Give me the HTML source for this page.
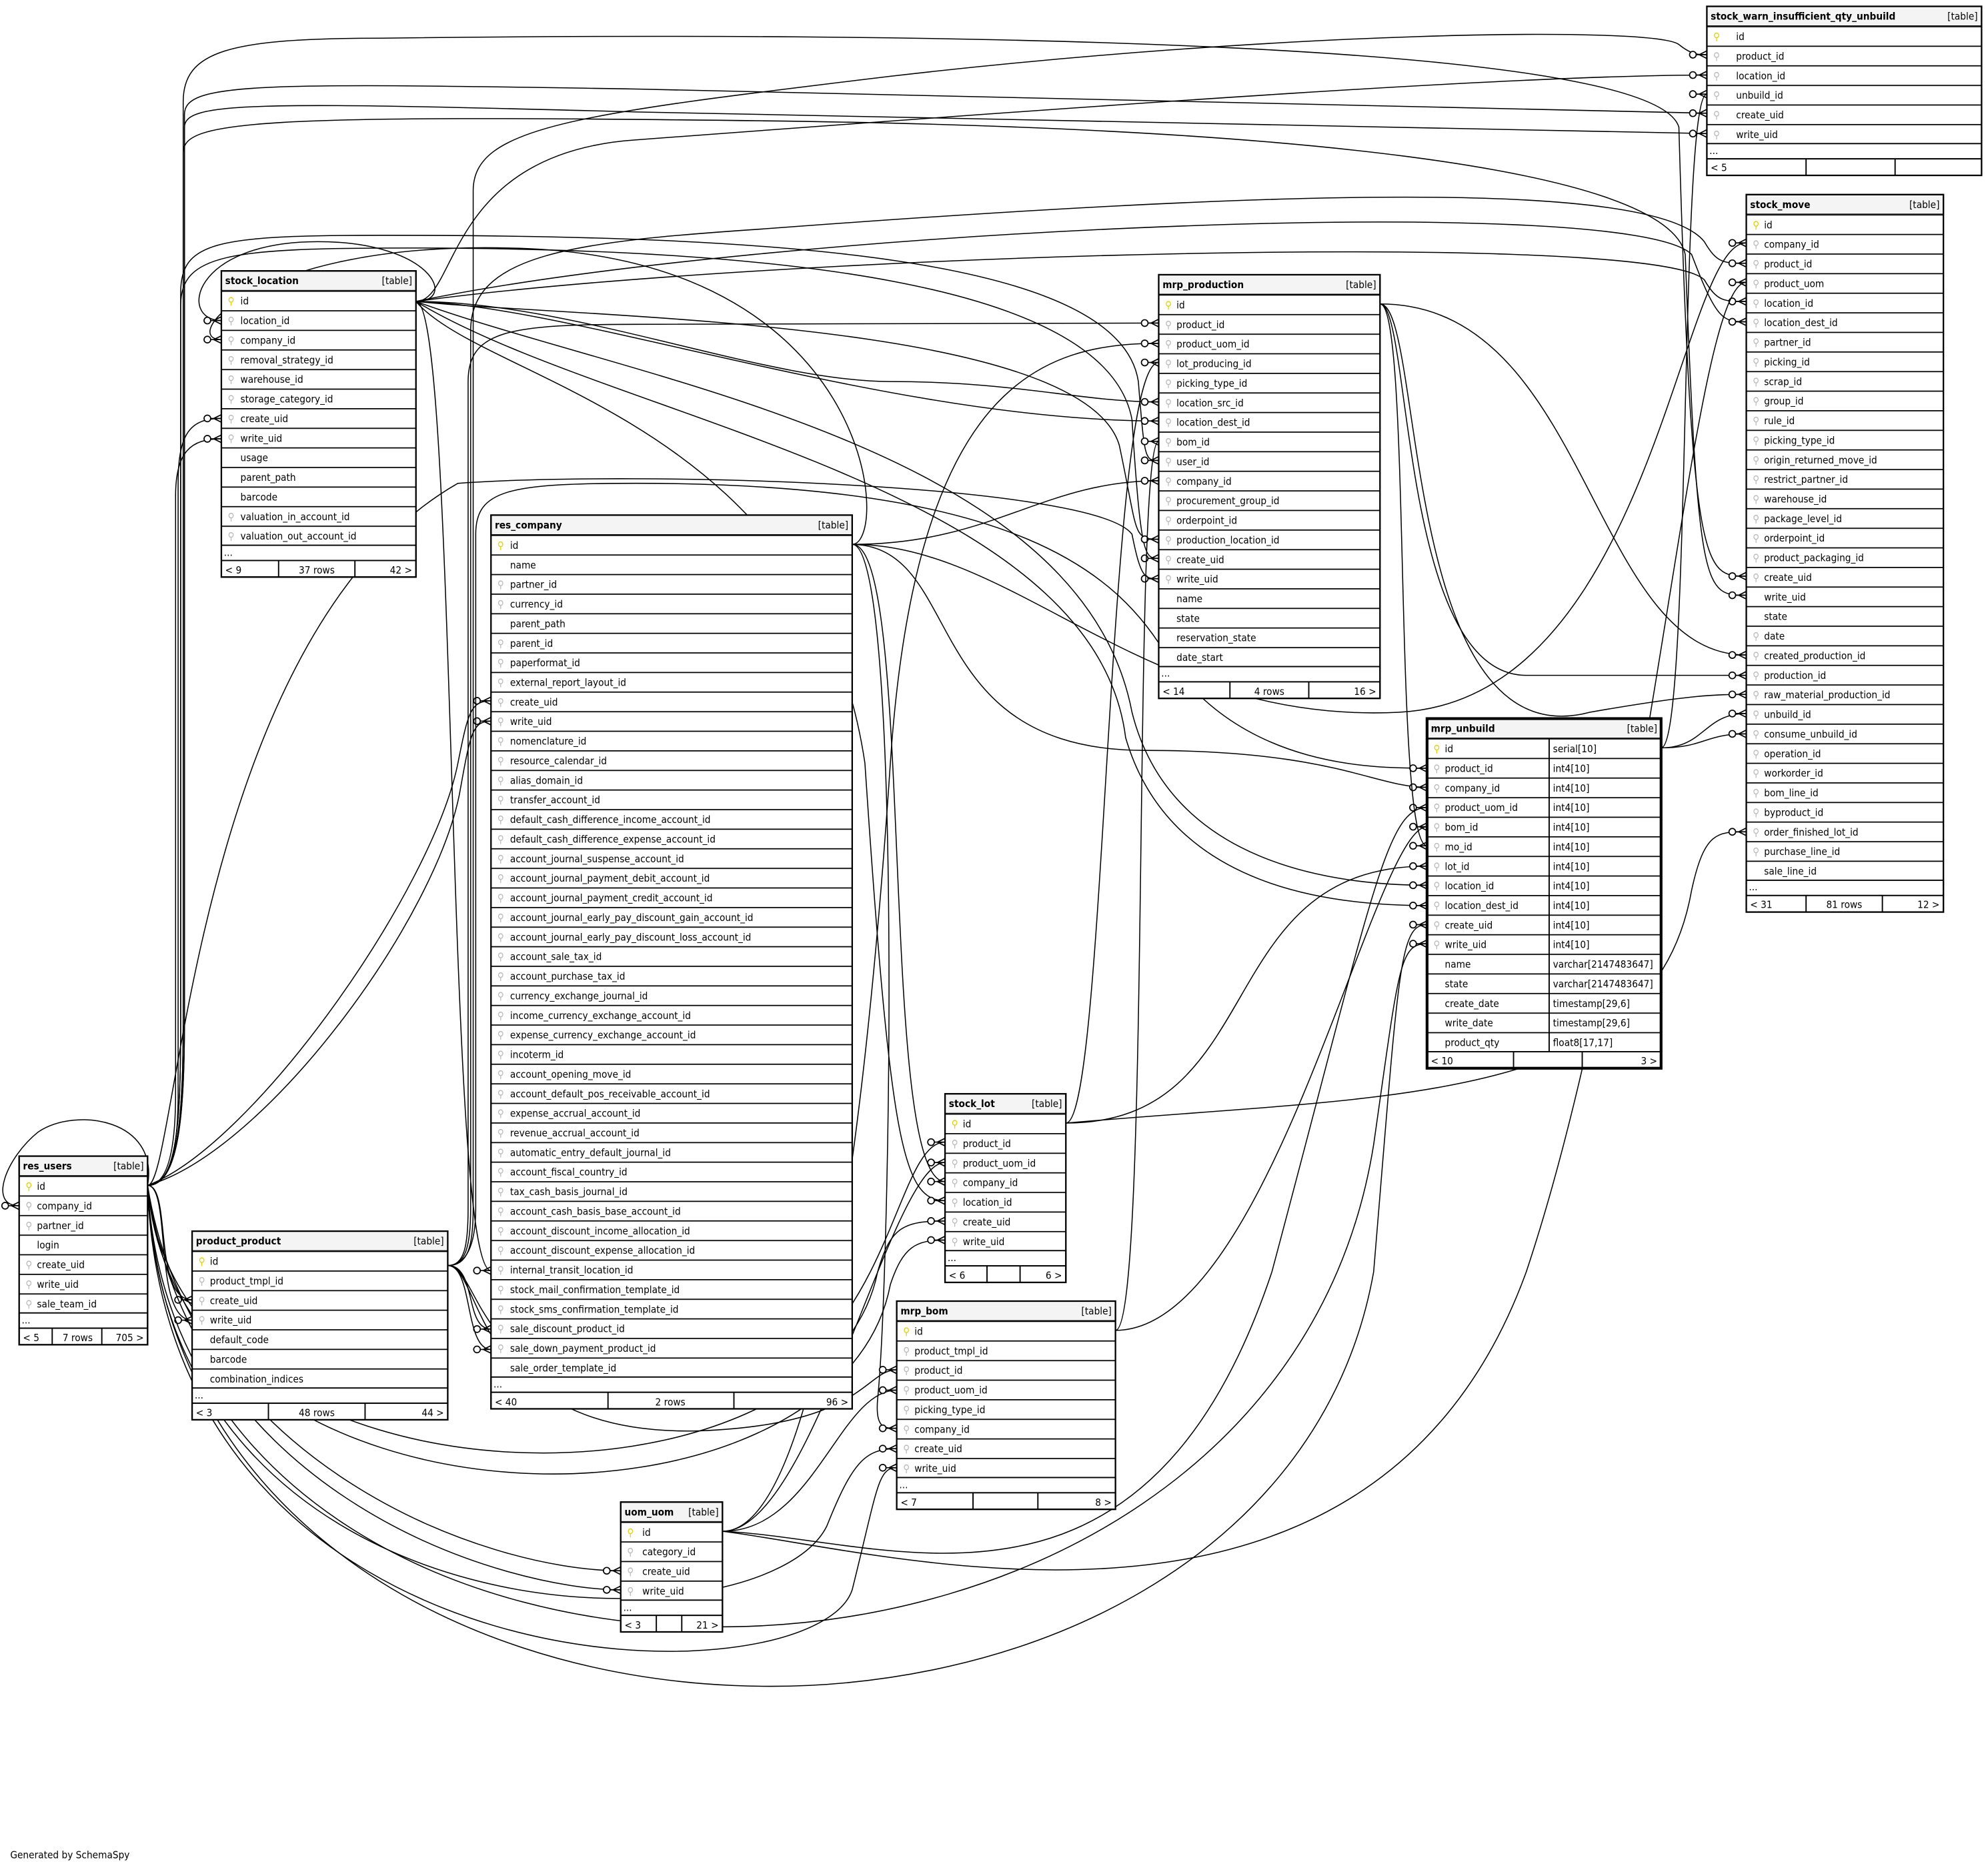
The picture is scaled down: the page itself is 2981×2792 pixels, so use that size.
<!DOCTYPE html>
<html><head><meta charset="utf-8"><style>
html,body{margin:0;padding:0;background:#fff}
svg{display:block}
text{font-family:"DejaVu Sans Condensed","DejaVu Sans","Liberation Sans",sans-serif;font-size:8px;fill:#000}
.h{font-weight:bold}
.k{fill:#b8b8b8;font-size:8px}
.y{fill:#e0d000}
.e{fill:none;stroke:#000;stroke-width:0.8}
.b{fill:#fff;stroke:#000;stroke-width:1}
.hd{fill:#f4f4f4;stroke:#000;stroke-width:1}
</style></head><body>
<svg width="2981" height="2792" viewBox="0 0 1563 1464" xmlns="http://www.w3.org/2000/svg">
<defs>
<marker id="m" markerWidth="16" markerHeight="10" refX="15" refY="5" orient="auto" markerUnits="userSpaceOnUse">
<circle cx="4" cy="5" r="2.6" fill="#fff" stroke="#000" stroke-width="0.9"/>
<path d="M6.6,5 H15 M9,5 L15,2 M9,5 L15,8" stroke="#000" stroke-width="0.9" fill="none"/>
</marker>
<pattern id="rows" patternUnits="userSpaceOnUse" width="600" height="15.4" y="0.1">
<rect width="600" height="15.4" fill="#fff"/>
<line x1="0" y1="0.3" x2="600" y2="0.3" stroke="#000" stroke-width="1.2"/>
</pattern>
</defs>
<rect width="1563" height="1464" fill="#fff"/>

<!-- EDGES -->
<g class="e" marker-end="url(#m)">
<!-- res_users -->
<path d="M116,932 C135,932 140,900 140,860 L140,380 C140,340 150,329 174,329"/>
<path d="M116,932 C133,932 138,900 138,860 L138,390 C138,355 150,345 174,345"/>
<path d="M116,932 C200,900 340,700 360,600 C368,560 370,551 386,551"/>
<path d="M116,932 C210,905 345,720 362,620 C370,575 372,567 386,567"/>
<path d="M116,932 C135,932 120,1022 151,1022"/>
<path d="M116,932 C135,932 120,1038 151,1038"/>
<path d="M116,932 C150,1150 380,1235 488,1235"/>
<path d="M116,932 C150,1180 400,1250 488,1250"/>
<path d="M116,932 C130,1300 600,1300 650,1200 C670,1150 680,1139 705,1139"/>
<path d="M116,932 C130,1340 640,1340 670,1250 C690,1170 690,1154 705,1154"/>
<path d="M116,932 C140,1200 650,1200 690,1000 C700,965 710,960 743,960"/>
<path d="M116,932 C140,1220 660,1220 700,1010 C710,980 720,975 743,975"/>
<path d="M116,932 C140,932 142,880 142,800 L142,230 C142,190 170,185 300,185 C600,185 880,200 895,300 C900,362 900,362 911,362"/>
<path d="M116,932 C140,932 142,880 142,800 L142,240 C142,200 180,195 320,195 C600,195 870,220 890,330 C897,439 900,439 911,439"/>
<path d="M116,932 C140,932 150,500 360,380 C500,370 860,380 890,420 C897,455 900,455 911,455"/>
<path d="M116,932 C140,1440 1000,1450 1080,1000 C1100,760 1100,727 1122,727"/>
<path d="M116,932 C140,1400 1000,1400 1080,900 C1100,760 1100,742 1122,742"/>
<path d="M116,932 C140,932 144,880 144,800 L144,80 C144,40 180,30 300,30 C700,25 1300,30 1320,100 C1330,453 1340,453 1373,453"/>
<path d="M116,932 C140,932 144,880 144,800 L144,120 C144,95 200,90 600,95 C1000,100 1310,130 1325,200 C1335,468 1340,468 1373,468"/>
<path d="M116,932 C140,932 145,880 145,800 L145,90 C145,65 200,65 500,70 C900,78 1300,89 1342,89"/>
<path d="M116,932 C140,932 145,880 145,800 L145,100 C145,80 200,80 500,88 C900,98 1300,105 1342,105"/>
<path d="M116,932 C125,880 60,870 30,890 C5,910 -10,948 15,948"/>
<!-- res_company -->
<path d="M670,428 C700,428 690,200 400,195 C200,190 140,267 174,267"/>
<path d="M670,428 C780,428 820,378 911,378"/>
<path d="M670,428 C760,430 720,590 900,590 C1050,590 1080,619 1122,619"/>
<path d="M670,428 C720,428 690,929 743,929"/>
<path d="M670,428 C710,428 700,1000 690,1100 C688,1123 695,1123 705,1123"/>
<path d="M670,428 C800,428 900,570 1100,560 C1300,550 1320,191 1373,191"/>
<!-- stock_location -->
<path d="M327,237 C360,237 340,190 250,190 C150,190 140,252 174,252"/>
<path d="M327,237 C450,237 600,300 700,300 C800,300 850,316 911,316"/>
<path d="M327,237 C450,240 700,331 911,331"/>
<path d="M327,237 C450,250 850,250 880,350 C895,420 890,424 911,424"/>
<path d="M327,237 C600,200 1300,180 1340,220 C1350,237 1355,237 1373,237"/>
<path d="M327,237 C600,180 1280,150 1330,200 C1350,253 1355,253 1373,253"/>
<path d="M327,237 C360,237 350,120 500,110 C900,80 1200,59 1342,59"/>
<path d="M327,237 C500,300 850,350 890,560 C920,680 1050,696 1122,696"/>
<path d="M327,237 C480,330 860,380 885,580 C920,700 1050,712 1122,712"/>
<path d="M327,237 C380,300 640,330 680,600 C700,900 710,944 743,944"/>
<path d="M327,237 C360,237 350,999 386,999"/>
<!-- product_product -->
<path d="M352,995 C365,995 368,980 368,950 L368,300 C368,260 400,255 500,255 C700,255 850,254 911,254"/>
<path d="M352,995 C366,995 370,980 370,950 L370,260 C370,200 450,190 600,180 C1000,150 1300,140 1340,190 C1350,207 1355,207 1373,207"/>
<path d="M352,995 C368,995 372,980 372,950 L372,150 C372,100 450,90 700,60 C1000,25 1300,20 1320,35 C1330,43 1335,43 1342,43"/>
<path d="M352,995 C366,995 374,980 374,950 L374,420 C374,385 400,380 500,380 C800,380 880,450 920,520 C980,604 1080,604 1122,604"/>
<path d="M352,995 C380,995 370,1110 550,1100 C700,1090 700,898 743,898"/>
<path d="M352,995 C380,995 370,1130 550,1125 C680,1120 680,1077 705,1077"/>
<path d="M352,995 C375,995 365,1045 386,1045"/>
<path d="M352,995 C372,995 365,1061 386,1061"/>
<!-- uom_uom -->
<path d="M568,1204 C640,1204 680,900 700,600 C720,300 820,270 911,270"/>
<path d="M568,1204 C700,1220 1080,1330 1200,1000 C1300,700 1330,222 1373,222"/>
<path d="M568,1204 C700,1210 900,1300 1000,1000 C1080,700 1090,635 1122,635"/>
<path d="M568,1204 C640,1204 700,914 743,914"/>
<path d="M568,1204 C640,1204 660,1093 705,1093"/>
<!-- mrp_production -->
<path d="M1085,239 C1250,239 1250,515 1373,515"/>
<path d="M1085,239 C1110,239 1100,531 1200,531 C1300,531 1340,531 1373,531"/>
<path d="M1085,239 C1120,239 1100,600 1250,560 C1330,546 1350,546 1373,546"/>
<path d="M1085,239 C1110,239 1095,665 1122,665"/>
<!-- mrp_unbuild -->
<path d="M1306,588 C1340,588 1340,561 1373,561"/>
<path d="M1306,588 C1340,588 1340,577 1373,577"/>
<path d="M1306,588 C1330,588 1320,74 1342,74"/>
<!-- stock_lot -->
<path d="M838,883 C870,883 870,285 911,285"/>
<path d="M838,883 C1000,883 950,681 1122,681"/>
<path d="M838,883 C1100,860 1300,870 1330,700 C1340,654 1350,654 1373,654"/>
<!-- mrp_bom -->
<path d="M877,1046 C905,1046 890,347 911,347"/>
<path d="M877,1046 C1000,1046 1080,650 1122,650"/>
</g>

<!-- stock_warn_insufficient_qty_unbuild -->
<g transform="translate(1342,5)">
<rect class="hd" width="216" height="15.5"/>
<rect y="15.5" width="216" height="92.4" fill="url(#rows)"/>
<rect class="b" y="107.9" width="216" height="12"/>
<rect class="b" y="119.9" width="216" height="13"/>
<line x1="78" y1="119.9" x2="78" y2="132.9" stroke="#000"/><line x1="148" y1="119.9" x2="148" y2="132.9" stroke="#000"/>
<rect width="216" height="132.9" fill="none" stroke="#000" stroke-width="1.2"/>
<text x="3" y="10.5" class="h">stock_warn_insufficient_qty_unbuild</text><text x="213" y="10.5" text-anchor="end">[table]</text>
<text x="5" y="26.5" class="y">⚲</text>
<text x="5" y="41.9" class="k"><tspan x="5">⚲</tspan><tspan x="5" dy="15.4">⚲</tspan><tspan x="5" dy="15.4">⚲</tspan><tspan x="5" dy="15.4">⚲</tspan><tspan x="5" dy="15.4">⚲</tspan></text>
<text x="23" y="26.5"><tspan x="23">id</tspan><tspan x="23" dy="15.4">product_id</tspan><tspan x="23" dy="15.4">location_id</tspan><tspan x="23" dy="15.4">unbuild_id</tspan><tspan x="23" dy="15.4">create_uid</tspan><tspan x="23" dy="15.4">write_uid</tspan></text>
<text x="2" y="116">...</text><text x="3" y="129.5">&lt; 5</text>
</g>

<!-- stock_move -->
<g transform="translate(1373,153)">
<rect class="hd" width="155" height="15.5"/>
<rect y="15.5" width="155" height="523.6" fill="url(#rows)"/>
<rect class="b" y="539.1" width="155" height="12"/>
<rect class="b" y="551.1" width="155" height="13"/>
<line x1="47" y1="551.1" x2="47" y2="564.1" stroke="#000"/><line x1="107" y1="551.1" x2="107" y2="564.1" stroke="#000"/>
<rect width="155" height="564.1" fill="none" stroke="#000" stroke-width="1.2"/>
<text x="3" y="10.5" class="h">stock_move</text><text x="152" y="10.5" text-anchor="end">[table]</text>
<text x="5" y="26.5" class="y">⚲</text>
<text x="5" y="41.9" class="k"><tspan x="5">⚲</tspan><tspan x="5" dy="15.4">⚲</tspan><tspan x="5" dy="15.4">⚲</tspan><tspan x="5" dy="15.4">⚲</tspan><tspan x="5" dy="15.4">⚲</tspan><tspan x="5" dy="15.4">⚲</tspan><tspan x="5" dy="15.4">⚲</tspan><tspan x="5" dy="15.4">⚲</tspan><tspan x="5" dy="15.4">⚲</tspan><tspan x="5" dy="15.4">⚲</tspan><tspan x="5" dy="15.4">⚲</tspan><tspan x="5" dy="15.4">⚲</tspan><tspan x="5" dy="15.4">⚲</tspan><tspan x="5" dy="15.4">⚲</tspan><tspan x="5" dy="15.4">⚲</tspan><tspan x="5" dy="15.4">⚲</tspan><tspan x="5" dy="15.4">⚲</tspan><tspan x="5" dy="15.4">⚲</tspan><tspan x="5" dy="46.2">⚲</tspan><tspan x="5" dy="15.4">⚲</tspan><tspan x="5" dy="15.4">⚲</tspan><tspan x="5" dy="15.4">⚲</tspan><tspan x="5" dy="15.4">⚲</tspan><tspan x="5" dy="15.4">⚲</tspan><tspan x="5" dy="15.4">⚲</tspan><tspan x="5" dy="15.4">⚲</tspan><tspan x="5" dy="15.4">⚲</tspan><tspan x="5" dy="15.4">⚲</tspan><tspan x="5" dy="15.4">⚲</tspan><tspan x="5" dy="15.4">⚲</tspan></text>
<text x="14" y="26.5"><tspan x="14">id</tspan><tspan x="14" dy="15.4">company_id</tspan><tspan x="14" dy="15.4">product_id</tspan><tspan x="14" dy="15.4">product_uom</tspan><tspan x="14" dy="15.4">location_id</tspan><tspan x="14" dy="15.4">location_dest_id</tspan><tspan x="14" dy="15.4">partner_id</tspan><tspan x="14" dy="15.4">picking_id</tspan><tspan x="14" dy="15.4">scrap_id</tspan><tspan x="14" dy="15.4">group_id</tspan><tspan x="14" dy="15.4">rule_id</tspan><tspan x="14" dy="15.4">picking_type_id</tspan><tspan x="14" dy="15.4">origin_returned_move_id</tspan><tspan x="14" dy="15.4">restrict_partner_id</tspan><tspan x="14" dy="15.4">warehouse_id</tspan><tspan x="14" dy="15.4">package_level_id</tspan><tspan x="14" dy="15.4">orderpoint_id</tspan><tspan x="14" dy="15.4">product_packaging_id</tspan><tspan x="14" dy="15.4">create_uid</tspan><tspan x="14" dy="15.4">write_uid</tspan><tspan x="14" dy="15.4">state</tspan><tspan x="14" dy="15.4">date</tspan><tspan x="14" dy="15.4">created_production_id</tspan><tspan x="14" dy="15.4">production_id</tspan><tspan x="14" dy="15.4">raw_material_production_id</tspan><tspan x="14" dy="15.4">unbuild_id</tspan><tspan x="14" dy="15.4">consume_unbuild_id</tspan><tspan x="14" dy="15.4">operation_id</tspan><tspan x="14" dy="15.4">workorder_id</tspan><tspan x="14" dy="15.4">bom_line_id</tspan><tspan x="14" dy="15.4">byproduct_id</tspan><tspan x="14" dy="15.4">order_finished_lot_id</tspan><tspan x="14" dy="15.4">purchase_line_id</tspan><tspan x="14" dy="15.4">sale_line_id</tspan></text>
<text x="2" y="547">...</text><text x="3" y="561">&lt; 31</text><text x="77" y="561" text-anchor="middle">81 rows</text><text x="152" y="561" text-anchor="end">12 &gt;</text>
</g>

<!-- stock_location -->
<g transform="translate(174,213)">
<rect class="hd" width="153" height="15.5"/>
<rect y="15.5" width="153" height="200.2" fill="url(#rows)"/>
<rect class="b" y="215.7" width="153" height="12"/>
<rect class="b" y="227.7" width="153" height="13"/>
<line x1="45" y1="227.7" x2="45" y2="240.7" stroke="#000"/><line x1="105" y1="227.7" x2="105" y2="240.7" stroke="#000"/>
<rect width="153" height="240.7" fill="none" stroke="#000" stroke-width="1.2"/>
<text x="3" y="10.5" class="h">stock_location</text><text x="150" y="10.5" text-anchor="end">[table]</text>
<text x="5" y="26.5" class="y">⚲</text>
<text x="5" y="41.9" class="k"><tspan x="5">⚲</tspan><tspan x="5" dy="15.4">⚲</tspan><tspan x="5" dy="15.4">⚲</tspan><tspan x="5" dy="15.4">⚲</tspan><tspan x="5" dy="15.4">⚲</tspan><tspan x="5" dy="15.4">⚲</tspan><tspan x="5" dy="15.4">⚲</tspan><tspan x="5" dy="61.6">⚲</tspan><tspan x="5" dy="15.4">⚲</tspan></text>
<text x="15" y="26.5"><tspan x="15">id</tspan><tspan x="15" dy="15.4">location_id</tspan><tspan x="15" dy="15.4">company_id</tspan><tspan x="15" dy="15.4">removal_strategy_id</tspan><tspan x="15" dy="15.4">warehouse_id</tspan><tspan x="15" dy="15.4">storage_category_id</tspan><tspan x="15" dy="15.4">create_uid</tspan><tspan x="15" dy="15.4">write_uid</tspan><tspan x="15" dy="15.4">usage</tspan><tspan x="15" dy="15.4">parent_path</tspan><tspan x="15" dy="15.4">barcode</tspan><tspan x="15" dy="15.4">valuation_in_account_id</tspan><tspan x="15" dy="15.4">valuation_out_account_id</tspan></text>
<text x="2" y="224">...</text><text x="3" y="238">&lt; 9</text><text x="75" y="238" text-anchor="middle">37 rows</text><text x="150" y="238" text-anchor="end">42 &gt;</text>
</g>

<!-- mrp_production -->
<g transform="translate(911,216)">
<rect class="hd" width="174" height="15.5"/>
<rect y="15.5" width="174" height="292.6" fill="url(#rows)"/>
<rect class="b" y="308.1" width="174" height="12"/>
<rect class="b" y="320.1" width="174" height="13"/>
<line x1="56" y1="320.1" x2="56" y2="333.1" stroke="#000"/><line x1="118" y1="320.1" x2="118" y2="333.1" stroke="#000"/>
<rect width="174" height="333.1" fill="none" stroke="#000" stroke-width="1.2"/>
<text x="3" y="10.5" class="h">mrp_production</text><text x="171" y="10.5" text-anchor="end">[table]</text>
<text x="5" y="26.5" class="y">⚲</text>
<text x="5" y="41.9" class="k"><tspan x="5">⚲</tspan><tspan x="5" dy="15.4">⚲</tspan><tspan x="5" dy="15.4">⚲</tspan><tspan x="5" dy="15.4">⚲</tspan><tspan x="5" dy="15.4">⚲</tspan><tspan x="5" dy="15.4">⚲</tspan><tspan x="5" dy="15.4">⚲</tspan><tspan x="5" dy="15.4">⚲</tspan><tspan x="5" dy="15.4">⚲</tspan><tspan x="5" dy="15.4">⚲</tspan><tspan x="5" dy="15.4">⚲</tspan><tspan x="5" dy="15.4">⚲</tspan><tspan x="5" dy="15.4">⚲</tspan><tspan x="5" dy="15.4">⚲</tspan></text>
<text x="14" y="26.5"><tspan x="14">id</tspan><tspan x="14" dy="15.4">product_id</tspan><tspan x="14" dy="15.4">product_uom_id</tspan><tspan x="14" dy="15.4">lot_producing_id</tspan><tspan x="14" dy="15.4">picking_type_id</tspan><tspan x="14" dy="15.4">location_src_id</tspan><tspan x="14" dy="15.4">location_dest_id</tspan><tspan x="14" dy="15.4">bom_id</tspan><tspan x="14" dy="15.4">user_id</tspan><tspan x="14" dy="15.4">company_id</tspan><tspan x="14" dy="15.4">procurement_group_id</tspan><tspan x="14" dy="15.4">orderpoint_id</tspan><tspan x="14" dy="15.4">production_location_id</tspan><tspan x="14" dy="15.4">create_uid</tspan><tspan x="14" dy="15.4">write_uid</tspan><tspan x="14" dy="15.4">name</tspan><tspan x="14" dy="15.4">state</tspan><tspan x="14" dy="15.4">reservation_state</tspan><tspan x="14" dy="15.4">date_start</tspan></text>
<text x="2" y="316">...</text><text x="3" y="330.5">&lt; 14</text><text x="87" y="330.5" text-anchor="middle">4 rows</text><text x="171" y="330.5" text-anchor="end">16 &gt;</text>
</g>

<!-- res_company -->
<g transform="translate(386,405)">
<rect class="hd" width="284" height="15.5"/>
<rect y="15.5" width="284" height="662.2" fill="url(#rows)"/>
<rect class="b" y="677.7" width="284" height="12"/>
<rect class="b" y="689.7" width="284" height="13"/>
<line x1="92" y1="689.7" x2="92" y2="702.7" stroke="#000"/><line x1="191" y1="689.7" x2="191" y2="702.7" stroke="#000"/>
<rect width="284" height="702.7" fill="none" stroke="#000" stroke-width="1.2"/>
<text x="3" y="10.5" class="h">res_company</text><text x="281" y="10.5" text-anchor="end">[table]</text>
<text x="5" y="26.5" class="y">⚲</text>
<text x="5" y="57.3" class="k"><tspan x="5">⚲</tspan><tspan x="5" dy="15.4">⚲</tspan><tspan x="5" dy="30.8">⚲</tspan><tspan x="5" dy="15.4">⚲</tspan><tspan x="5" dy="15.4">⚲</tspan><tspan x="5" dy="15.4">⚲</tspan><tspan x="5" dy="15.4">⚲</tspan><tspan x="5" dy="15.4">⚲</tspan><tspan x="5" dy="15.4">⚲</tspan><tspan x="5" dy="15.4">⚲</tspan><tspan x="5" dy="15.4">⚲</tspan><tspan x="5" dy="15.4">⚲</tspan><tspan x="5" dy="15.4">⚲</tspan><tspan x="5" dy="15.4">⚲</tspan><tspan x="5" dy="15.4">⚲</tspan><tspan x="5" dy="15.4">⚲</tspan><tspan x="5" dy="15.4">⚲</tspan><tspan x="5" dy="15.4">⚲</tspan><tspan x="5" dy="15.4">⚲</tspan><tspan x="5" dy="15.4">⚲</tspan><tspan x="5" dy="15.4">⚲</tspan><tspan x="5" dy="15.4">⚲</tspan><tspan x="5" dy="15.4">⚲</tspan><tspan x="5" dy="15.4">⚲</tspan><tspan x="5" dy="15.4">⚲</tspan><tspan x="5" dy="15.4">⚲</tspan><tspan x="5" dy="15.4">⚲</tspan><tspan x="5" dy="15.4">⚲</tspan><tspan x="5" dy="15.4">⚲</tspan><tspan x="5" dy="15.4">⚲</tspan><tspan x="5" dy="15.4">⚲</tspan><tspan x="5" dy="15.4">⚲</tspan><tspan x="5" dy="15.4">⚲</tspan><tspan x="5" dy="15.4">⚲</tspan><tspan x="5" dy="15.4">⚲</tspan><tspan x="5" dy="15.4">⚲</tspan><tspan x="5" dy="15.4">⚲</tspan><tspan x="5" dy="15.4">⚲</tspan><tspan x="5" dy="15.4">⚲</tspan></text>
<text x="15" y="26.5"><tspan x="15">id</tspan><tspan x="15" dy="15.4">name</tspan><tspan x="15" dy="15.4">partner_id</tspan><tspan x="15" dy="15.4">currency_id</tspan><tspan x="15" dy="15.4">parent_path</tspan><tspan x="15" dy="15.4">parent_id</tspan><tspan x="15" dy="15.4">paperformat_id</tspan><tspan x="15" dy="15.4">external_report_layout_id</tspan><tspan x="15" dy="15.4">create_uid</tspan><tspan x="15" dy="15.4">write_uid</tspan><tspan x="15" dy="15.4">nomenclature_id</tspan><tspan x="15" dy="15.4">resource_calendar_id</tspan><tspan x="15" dy="15.4">alias_domain_id</tspan><tspan x="15" dy="15.4">transfer_account_id</tspan><tspan x="15" dy="15.4">default_cash_difference_income_account_id</tspan><tspan x="15" dy="15.4">default_cash_difference_expense_account_id</tspan><tspan x="15" dy="15.4">account_journal_suspense_account_id</tspan><tspan x="15" dy="15.4">account_journal_payment_debit_account_id</tspan><tspan x="15" dy="15.4">account_journal_payment_credit_account_id</tspan><tspan x="15" dy="15.4">account_journal_early_pay_discount_gain_account_id</tspan><tspan x="15" dy="15.4">account_journal_early_pay_discount_loss_account_id</tspan><tspan x="15" dy="15.4">account_sale_tax_id</tspan><tspan x="15" dy="15.4">account_purchase_tax_id</tspan><tspan x="15" dy="15.4">currency_exchange_journal_id</tspan><tspan x="15" dy="15.4">income_currency_exchange_account_id</tspan><tspan x="15" dy="15.4">expense_currency_exchange_account_id</tspan><tspan x="15" dy="15.4">incoterm_id</tspan><tspan x="15" dy="15.4">account_opening_move_id</tspan><tspan x="15" dy="15.4">account_default_pos_receivable_account_id</tspan><tspan x="15" dy="15.4">expense_accrual_account_id</tspan><tspan x="15" dy="15.4">revenue_accrual_account_id</tspan><tspan x="15" dy="15.4">automatic_entry_default_journal_id</tspan><tspan x="15" dy="15.4">account_fiscal_country_id</tspan><tspan x="15" dy="15.4">tax_cash_basis_journal_id</tspan><tspan x="15" dy="15.4">account_cash_basis_base_account_id</tspan><tspan x="15" dy="15.4">account_discount_income_allocation_id</tspan><tspan x="15" dy="15.4">account_discount_expense_allocation_id</tspan><tspan x="15" dy="15.4">internal_transit_location_id</tspan><tspan x="15" dy="15.4">stock_mail_confirmation_template_id</tspan><tspan x="15" dy="15.4">stock_sms_confirmation_template_id</tspan><tspan x="15" dy="15.4">sale_discount_product_id</tspan><tspan x="15" dy="15.4">sale_down_payment_product_id</tspan><tspan x="15" dy="15.4">sale_order_template_id</tspan></text>
<text x="2" y="686">...</text><text x="3" y="700">&lt; 40</text><text x="141" y="700" text-anchor="middle">2 rows</text><text x="281" y="700" text-anchor="end">96 &gt;</text>
</g>

<!-- mrp_unbuild -->
<g transform="translate(1122,565)">
<rect class="hd" width="184" height="15.5"/>
<rect y="15.5" width="184" height="246.4" fill="url(#rows)"/>
<line x1="96" y1="15.5" x2="96" y2="261.9" stroke="#000" stroke-width="1"/>
<rect class="b" y="261.9" width="184" height="13"/>
<line x1="68" y1="261.9" x2="68" y2="274.9" stroke="#000"/><line x1="122" y1="261.9" x2="122" y2="274.9" stroke="#000"/>
<rect width="184" height="274.9" fill="none" stroke="#000" stroke-width="2.2"/>
<text x="3" y="10.5" class="h">mrp_unbuild</text><text x="181" y="10.5" text-anchor="end">[table]</text>
<text x="5" y="26.5" class="y">⚲</text>
<text x="5" y="41.9" class="k"><tspan x="5">⚲</tspan><tspan x="5" dy="15.4">⚲</tspan><tspan x="5" dy="15.4">⚲</tspan><tspan x="5" dy="15.4">⚲</tspan><tspan x="5" dy="15.4">⚲</tspan><tspan x="5" dy="15.4">⚲</tspan><tspan x="5" dy="15.4">⚲</tspan><tspan x="5" dy="15.4">⚲</tspan><tspan x="5" dy="15.4">⚲</tspan><tspan x="5" dy="15.4">⚲</tspan></text>
<text x="14" y="26.5"><tspan x="14">id</tspan><tspan x="14" dy="15.4">product_id</tspan><tspan x="14" dy="15.4">company_id</tspan><tspan x="14" dy="15.4">product_uom_id</tspan><tspan x="14" dy="15.4">bom_id</tspan><tspan x="14" dy="15.4">mo_id</tspan><tspan x="14" dy="15.4">lot_id</tspan><tspan x="14" dy="15.4">location_id</tspan><tspan x="14" dy="15.4">location_dest_id</tspan><tspan x="14" dy="15.4">create_uid</tspan><tspan x="14" dy="15.4">write_uid</tspan><tspan x="14" dy="15.4">name</tspan><tspan x="14" dy="15.4">state</tspan><tspan x="14" dy="15.4">create_date</tspan><tspan x="14" dy="15.4">write_date</tspan><tspan x="14" dy="15.4">product_qty</tspan></text>
<text x="99" y="26.5"><tspan x="99">serial[10]</tspan><tspan x="99" dy="15.4">int4[10]</tspan><tspan x="99" dy="15.4">int4[10]</tspan><tspan x="99" dy="15.4">int4[10]</tspan><tspan x="99" dy="15.4">int4[10]</tspan><tspan x="99" dy="15.4">int4[10]</tspan><tspan x="99" dy="15.4">int4[10]</tspan><tspan x="99" dy="15.4">int4[10]</tspan><tspan x="99" dy="15.4">int4[10]</tspan><tspan x="99" dy="15.4">int4[10]</tspan><tspan x="99" dy="15.4">int4[10]</tspan><tspan x="99" dy="15.4">varchar[2147483647]</tspan><tspan x="99" dy="15.4">varchar[2147483647]</tspan><tspan x="99" dy="15.4">timestamp[29,6]</tspan><tspan x="99" dy="15.4">timestamp[29,6]</tspan><tspan x="99" dy="15.4">float8[17,17]</tspan></text>
<text x="3" y="272">&lt; 10</text><text x="181" y="272" text-anchor="end">3 &gt;</text>
</g>

<!-- stock_lot -->
<g transform="translate(743,860)">
<rect class="hd" width="95" height="15.5"/>
<rect y="15.5" width="95" height="107.8" fill="url(#rows)"/>
<rect class="b" y="123.3" width="95" height="12"/>
<rect class="b" y="135.3" width="95" height="13"/>
<line x1="33" y1="135.3" x2="33" y2="148.3" stroke="#000"/><line x1="59" y1="135.3" x2="59" y2="148.3" stroke="#000"/>
<rect width="95" height="148.3" fill="none" stroke="#000" stroke-width="1.2"/>
<text x="3" y="10.5" class="h">stock_lot</text><text x="92" y="10.5" text-anchor="end">[table]</text>
<text x="5" y="26.5" class="y">⚲</text>
<text x="5" y="41.9" class="k"><tspan x="5">⚲</tspan><tspan x="5" dy="15.4">⚲</tspan><tspan x="5" dy="15.4">⚲</tspan><tspan x="5" dy="15.4">⚲</tspan><tspan x="5" dy="15.4">⚲</tspan><tspan x="5" dy="15.4">⚲</tspan></text>
<text x="14" y="26.5"><tspan x="14">id</tspan><tspan x="14" dy="15.4">product_id</tspan><tspan x="14" dy="15.4">product_uom_id</tspan><tspan x="14" dy="15.4">company_id</tspan><tspan x="14" dy="15.4">location_id</tspan><tspan x="14" dy="15.4">create_uid</tspan><tspan x="14" dy="15.4">write_uid</tspan></text>
<text x="2" y="131.5">...</text><text x="3" y="145.5">&lt; 6</text><text x="92" y="145.5" text-anchor="end">6 &gt;</text>
</g>

<!-- mrp_bom -->
<g transform="translate(705,1023)">
<rect class="hd" width="172" height="15.5"/>
<rect y="15.5" width="172" height="123.2" fill="url(#rows)"/>
<rect class="b" y="138.7" width="172" height="12"/>
<rect class="b" y="150.7" width="172" height="13"/>
<line x1="60" y1="150.7" x2="60" y2="163.7" stroke="#000"/><line x1="111" y1="150.7" x2="111" y2="163.7" stroke="#000"/>
<rect width="172" height="163.7" fill="none" stroke="#000" stroke-width="1.2"/>
<text x="3" y="10.5" class="h">mrp_bom</text><text x="169" y="10.5" text-anchor="end">[table]</text>
<text x="5" y="26.5" class="y">⚲</text>
<text x="5" y="41.9" class="k"><tspan x="5">⚲</tspan><tspan x="5" dy="15.4">⚲</tspan><tspan x="5" dy="15.4">⚲</tspan><tspan x="5" dy="15.4">⚲</tspan><tspan x="5" dy="15.4">⚲</tspan><tspan x="5" dy="15.4">⚲</tspan><tspan x="5" dy="15.4">⚲</tspan></text>
<text x="14" y="26.5"><tspan x="14">id</tspan><tspan x="14" dy="15.4">product_tmpl_id</tspan><tspan x="14" dy="15.4">product_id</tspan><tspan x="14" dy="15.4">product_uom_id</tspan><tspan x="14" dy="15.4">picking_type_id</tspan><tspan x="14" dy="15.4">company_id</tspan><tspan x="14" dy="15.4">create_uid</tspan><tspan x="14" dy="15.4">write_uid</tspan></text>
<text x="2" y="147">...</text><text x="3" y="161">&lt; 7</text><text x="169" y="161" text-anchor="end">8 &gt;</text>
</g>

<!-- res_users -->
<g transform="translate(15,909)">
<rect class="hd" width="101" height="15.5"/>
<rect y="15.5" width="101" height="107.8" fill="url(#rows)"/>
<rect class="b" y="123.3" width="101" height="12"/>
<rect class="b" y="135.3" width="101" height="13"/>
<line x1="26" y1="135.3" x2="26" y2="148.3" stroke="#000"/><line x1="65" y1="135.3" x2="65" y2="148.3" stroke="#000"/>
<rect width="101" height="148.3" fill="none" stroke="#000" stroke-width="1.2"/>
<text x="3" y="10.5" class="h">res_users</text><text x="98" y="10.5" text-anchor="end">[table]</text>
<text x="5" y="26.5" class="y">⚲</text>
<text x="5" y="41.9" class="k"><tspan x="5">⚲</tspan><tspan x="5" dy="15.4">⚲</tspan><tspan x="5" dy="30.8">⚲</tspan><tspan x="5" dy="15.4">⚲</tspan><tspan x="5" dy="15.4">⚲</tspan></text>
<text x="14" y="26.5"><tspan x="14">id</tspan><tspan x="14" dy="15.4">company_id</tspan><tspan x="14" dy="15.4">partner_id</tspan><tspan x="14" dy="15.4">login</tspan><tspan x="14" dy="15.4">create_uid</tspan><tspan x="14" dy="15.4">write_uid</tspan><tspan x="14" dy="15.4">sale_team_id</tspan></text>
<text x="2" y="131.5">...</text><text x="3" y="145.5">&lt; 5</text><text x="46" y="145.5" text-anchor="middle">7 rows</text><text x="98" y="145.5" text-anchor="end">705 &gt;</text>
</g>

<!-- product_product -->
<g transform="translate(151,968)">
<rect class="hd" width="201" height="15.5"/>
<rect y="15.5" width="201" height="107.8" fill="url(#rows)"/>
<rect class="b" y="123.3" width="201" height="12"/>
<rect class="b" y="135.3" width="201" height="13"/>
<line x1="60" y1="135.3" x2="60" y2="148.3" stroke="#000"/><line x1="136" y1="135.3" x2="136" y2="148.3" stroke="#000"/>
<rect width="201" height="148.3" fill="none" stroke="#000" stroke-width="1.2"/>
<text x="3" y="10.5" class="h">product_product</text><text x="198" y="10.5" text-anchor="end">[table]</text>
<text x="5" y="26.5" class="y">⚲</text>
<text x="5" y="41.9" class="k"><tspan x="5">⚲</tspan><tspan x="5" dy="15.4">⚲</tspan><tspan x="5" dy="15.4">⚲</tspan></text>
<text x="14" y="26.5"><tspan x="14">id</tspan><tspan x="14" dy="15.4">product_tmpl_id</tspan><tspan x="14" dy="15.4">create_uid</tspan><tspan x="14" dy="15.4">write_uid</tspan><tspan x="14" dy="15.4">default_code</tspan><tspan x="14" dy="15.4">barcode</tspan><tspan x="14" dy="15.4">combination_indices</tspan></text>
<text x="2" y="131.5">...</text><text x="3" y="145.5">&lt; 3</text><text x="98" y="145.5" text-anchor="middle">48 rows</text><text x="198" y="145.5" text-anchor="end">44 &gt;</text>
</g>

<!-- uom_uom -->
<g transform="translate(488,1181)">
<rect class="hd" width="80" height="15.5"/>
<rect y="15.5" width="80" height="61.6" fill="url(#rows)"/>
<rect class="b" y="77.1" width="80" height="12"/>
<rect class="b" y="89.1" width="80" height="13"/>
<line x1="28" y1="89.1" x2="28" y2="102.1" stroke="#000"/><line x1="48" y1="89.1" x2="48" y2="102.1" stroke="#000"/>
<rect width="80" height="102.1" fill="none" stroke="#000" stroke-width="1.2"/>
<text x="3" y="10.5" class="h">uom_uom</text><text x="77" y="10.5" text-anchor="end">[table]</text>
<text x="5" y="26.5" class="y">⚲</text>
<text x="5" y="41.9" class="k"><tspan x="5">⚲</tspan><tspan x="5" dy="15.4">⚲</tspan><tspan x="5" dy="15.4">⚲</tspan></text>
<text x="17" y="26.5"><tspan x="17">id</tspan><tspan x="17" dy="15.4">category_id</tspan><tspan x="17" dy="15.4">create_uid</tspan><tspan x="17" dy="15.4">write_uid</tspan></text>
<text x="2" y="85.5">...</text><text x="3" y="99.5">&lt; 3</text><text x="77" y="99.5" text-anchor="end">21 &gt;</text>
</g>

<text x="8" y="1461">Generated by SchemaSpy</text>
</svg>
</body></html>
